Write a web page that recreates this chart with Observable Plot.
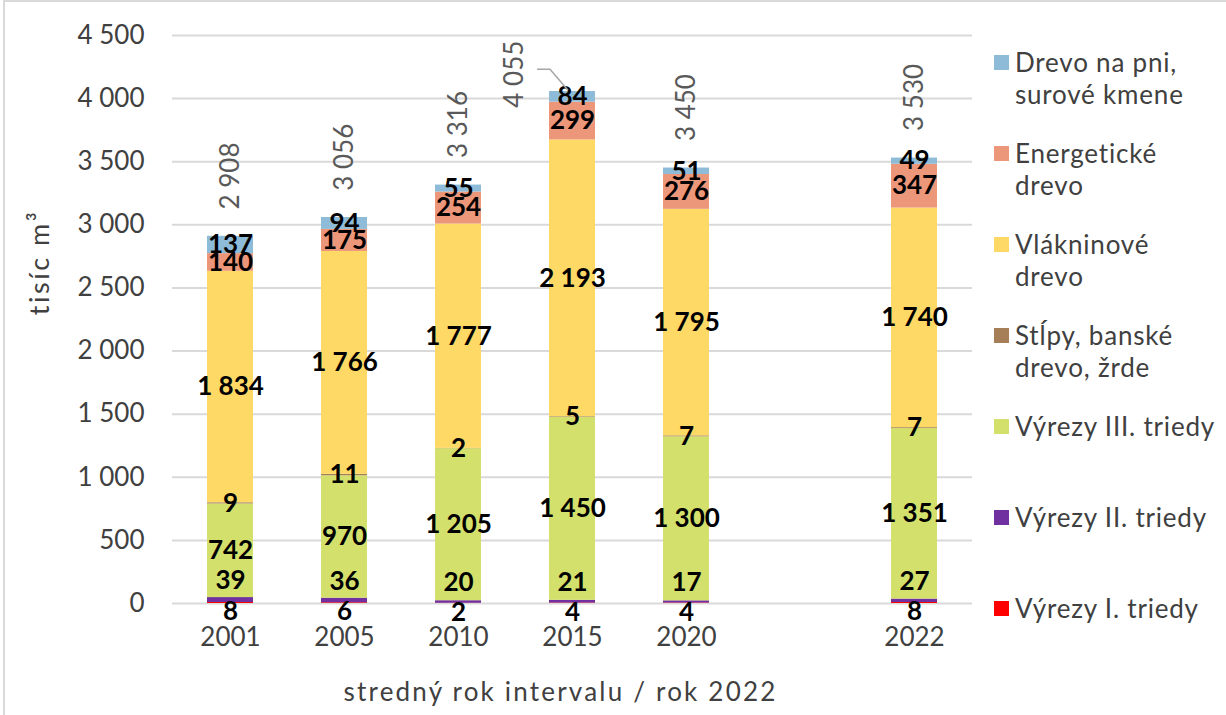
<!DOCTYPE html>
<html>
<head>
<meta charset="utf-8">
<script src="https://cdn.jsdelivr.net/npm/d3@7"></script>
<script src="https://cdn.jsdelivr.net/npm/@observablehq/plot@0.6"></script>
<style>
  body { margin: 0; background: #fff; }
  #wrap { position: relative; width: 1226px; height: 715px; overflow: hidden; font-family: Lato, "DejaVu Sans", sans-serif; }
  #frame { position: absolute; left: 3px; top: 0; width: 1400px; height: 900px; border-left: 2px solid #d9d9d9; border-top: 2px solid #d9d9d9; pointer-events: none; }
  #chart { position: absolute; left: 0; top: 0; }
  .item { position: absolute; left: 994px; width: 230px; }
  .sw { position: absolute; left: 0; top: 9px; width: 15px; height: 15px; }
  .lab { position: absolute; left: 21px; top: 0; font-size: 26px; line-height: 32px; color: #404040; white-space: nowrap; letter-spacing: 0.8px; }
</style>
</head>
<body>
<div id="wrap">
  <div id="chart"></div>
  <div id="legend"></div>
  <div id="frame"></div>
</div>
<script>
// ---- data ----
const years = ["2001", "2005", "2010", "2015", "2020", "2022"];
const seriesNames = [
  "Výrezy I. triedy",
  "Výrezy II. triedy",
  "Výrezy III. triedy",
  "Stĺpy, banské drevo, žrde",
  "Vlákninové drevo",
  "Energetické drevo",
  "Drevo na pni, surové kmene"
];
const vyrezyI      = [8, 6, 2, 4, 4, 8];
const vyrezyII     = [39, 36, 20, 21, 17, 27];
const vyrezyIII    = [742, 970, 1205, 1450, 1300, 1351];
const stlpy        = [9, 11, 2, 5, 7, 7];
const vlakninove   = [1834, 1766, 1777, 2193, 1795, 1740];
const energeticke  = [140, 175, 254, 299, 276, 347];
const drevoNaPni   = [137, 94, 55, 84, 51, 49];
const totals       = [2908, 3056, 3316, 4055, 3450, 3530];
const yTicks       = [0, 500, 1000, 1500, 2000, 2500, 3000, 3500, 4000, 4500];
const seriesColors = ["#FF0000", "#7030A0", "#D4E06C", "#A67F59", "#FFD966", "#EC967A", "#8DBBD8"];
const xTitle = "stredný rok intervalu / rok 2022";
const yTitle = "tisíc m³";
const legendLines = [
  ["Drevo na pni,", "surové kmene"],
  ["Energetické", "drevo"],
  ["Vlákninové", "drevo"],
  ["Stĺpy, banské", "drevo, žrde"],
  ["Výrezy III. triedy"],
  ["Výrezy II. triedy"],
  ["Výrezy I. triedy"]
];
const legendSeries = [6, 5, 4, 3, 2, 1, 0];

// ---- build ----
const seriesValues = [vyrezyI, vyrezyII, vyrezyIII, stlpy, vlakninove, energeticke, drevoNaPni];
const rows = years.flatMap((yr, i) => seriesNames.map((s, j) => ({year: yr, series: s, value: seriesValues[j][i]})));
const totalRows = years.map((yr, i) => ({year: yr, total: totals[i]}));
const fmt = d => d3.format(",")(d).replace(/,/g, " ");
const xDomain = ["2001", "2005", "2010", "2015", "2020", "gap", "2022"];

const labelOpts = (keep) => ({
  x: "year", y: "value", z: "series",
  text: d => keep(d.series) ? fmt(d.value) : "",
  fill: "#000", fontWeight: "bold", fontSize: 26
});

const chart = Plot.plot({
  width: 1226,
  height: 715,
  marginLeft: 172,
  marginRight: 254,
  marginTop: 35,
  marginBottom: 112,
  style: {fontFamily: "Lato, 'DejaVu Sans', sans-serif", fontSize: "26px", color: "#404040", background: "transparent"},
  x: {type: "band", domain: xDomain, paddingInner: 0.6, paddingOuter: 0.3, axis: null},
  y: {domain: [0, 4500], axis: null},
  color: {domain: seriesNames, range: seriesColors},
  marks: [
    Plot.ruleY(yTicks, {stroke: "#d9d9d9", strokeWidth: 2}),
    Plot.barY(rows, {x: "year", y: "value", z: "series", fill: "series"}),
    Plot.axisY({ticks: yTicks, tickFormat: fmt, tickSize: 0, tickPadding: 28, label: null, fontSize: 26, fill: "#404040"}),
    Plot.axisX({ticks: years, tickSize: 0, tickPadding: 24, label: null, fontSize: 26, fill: "#404040"}),
    // segment value labels
    Plot.text(rows, Plot.stackY({...labelOpts(s => s !== seriesNames[0] && s !== seriesNames[1])})),
    Plot.text(rows, Plot.stackY({...labelOpts(s => s === seriesNames[1]), dy: -19})),
    Plot.text(rows, Plot.stackY({...labelOpts(s => s === seriesNames[0]), dy: 9})),
    // totals
    Plot.text(totalRows.filter(d => d.year !== "2015"), {x: "year", y: "total", text: d => fmt(d.total), rotate: -90, textAnchor: "start", dy: -27, fill: "#595959", fontSize: 26}),
    Plot.text(totalRows.filter(d => d.year === "2015"), {x: "year", y: "total", text: d => fmt(d.total), rotate: -90, textAnchor: "start", dx: -58, dy: 16, fill: "#595959", fontSize: 26}),
    // axis titles
    Plot.text([xTitle], {frameAnchor: "bottom", textAnchor: "middle", lineAnchor: "middle", dx: -12, dy: 89, fill: "#404040", fontSize: 26}),
    Plot.text([yTitle], {frameAnchor: "left", textAnchor: "middle", lineAnchor: "middle", rotate: -90, dx: -132, dy: -57, fill: "#404040", fontSize: 27})
  ]
});
document.getElementById("chart").appendChild(chart);

// widen axis titles to match the reference's wide typeface
d3.select(chart).selectAll("text")
  .filter(function () { return this.textContent === xTitle; })
  .attr("letter-spacing", "2.2px");
d3.select(chart).selectAll("text")
  .filter(function () { return this.textContent === yTitle; })
  .attr("letter-spacing", "2.5px");

// leader line for the moved 2015 total label
const xs = chart.scale("x"), ys = chart.scale("y");
const bx = xs.apply("2015") + xs.bandwidth / 2;
const by = ys.apply(totals[3]);
d3.select(chart).append("path")
  .attr("d", `M${bx - 35},${by - 22}H${bx - 22}L${bx - 4},${by - 1}`)
  .attr("fill", "none").attr("stroke", "#a6a6a6").attr("stroke-width", 1.5);

// legend
const leg = document.getElementById("legend");
legendSeries.forEach((si, k) => {
  const it = document.createElement("div");
  it.className = "item";
  it.style.top = (46 + 91 * k) + "px";
  const sw = document.createElement("div");
  sw.className = "sw";
  sw.style.background = seriesColors[si];
  const lab = document.createElement("div");
  lab.className = "lab";
  lab.innerHTML = legendLines[k].join("<br>");
  it.appendChild(sw); it.appendChild(lab);
  leg.appendChild(it);
});
</script>
</body>
</html>
